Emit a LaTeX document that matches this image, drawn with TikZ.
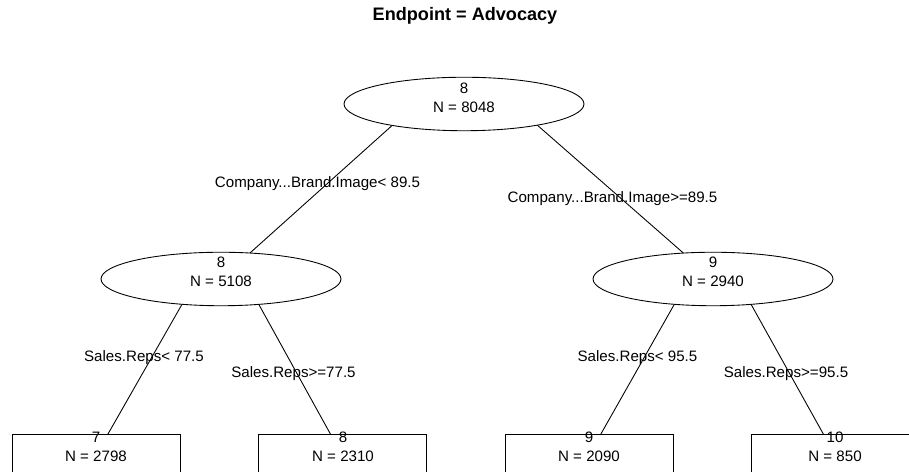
\documentclass[tikz,border=0pt]{standalone}
\usepackage{fontspec}
\setmainfont{Liberation Sans}
\usetikzlibrary{shapes.geometric,backgrounds,calc}

\begin{document}
\begin{tikzpicture}[x=0.02cm,y=0.02cm,
    split/.style={ellipse,draw,fill=white,line width=0.5pt,inner sep=0pt,
      minimum width=4.8cm,minimum height=1.07cm},
    leaf/.style={rectangle,draw,fill=white,line width=0.5pt,inner sep=0pt,
      minimum width=3.36cm,minimum height=0.84cm},
    txt/.style={align=center,inner sep=0pt,font=\fontsize{8.6}{10.8}\selectfont},
    rule/.style={anchor=base,inner sep=0pt,font=\fontsize{8.6}{10.8}\selectfont}]

    \useasboundingbox (0,0) rectangle (909,472);
    \clip (0,0) rectangle (909,472);

    \node[anchor=base,inner sep=0pt,font=\fontsize{10.3}{12}\selectfont\bfseries] (title) at (465,451) {Endpoint = Advocacy};

    % splits
    \node[split] (S0) at (464,368) {};  \node[txt] (S0t) at (464,374.5) {8\\N = 8048};
    \node[split] (S1) at (221,193) {};  \node[txt] (S1t) at (221,200) {8\\N = 5108};
    \node[split] (S2) at (713,193) {};  \node[txt] (S2t) at (713,200) {9\\N = 2940};

    % leaves
    \node[leaf] (T1) at (96,17) {};   \node[txt] (T1t) at (96,25.5) {7\\N = 2798};
    \node[leaf] (T2) at (342,17) {};  \node[txt] (T2t) at (343,25.5) {8\\N = 2310};
    \node[leaf] (T3) at (589,17) {};  \node[txt] (T3t) at (589,25.5) {9\\N = 2090};
    \node[leaf] (T4) at (835,17) {};  \node[txt] (T4t) at (835,25.5) {10\\N = 850};

    % branches go under the boxes, aimed from a bit above the parent
    \begin{scope}[on background layer]
    \foreach \a/\b in {S0/S1,S0/S2,S1/T1,S1/T2,S2/T3,S2/T4}
        \draw[line width=0.5pt] ($([yshift=0.86cm]\a.center)!0.2!(\b.center)$) -- (\b.center);
    \end{scope}

    % split rules
    \node[rule] (c1) at (317.5,284) {Company...Brand.Image< 89.5};
    \node[rule] (c2) at (612.5,269) {Company...Brand.Image>=89.5};
    \node[rule] (c3) at (144,110) {Sales.Reps< 77.5};
    \node[rule] (c4) at (293.5,94) {Sales.Reps>=77.5};
    \node[rule] (c5) at (637.5,110) {Sales.Reps< 95.5};
    \node[rule] (c6) at (786,94) {Sales.Reps>=95.5};

\end{tikzpicture}
\end{document}
